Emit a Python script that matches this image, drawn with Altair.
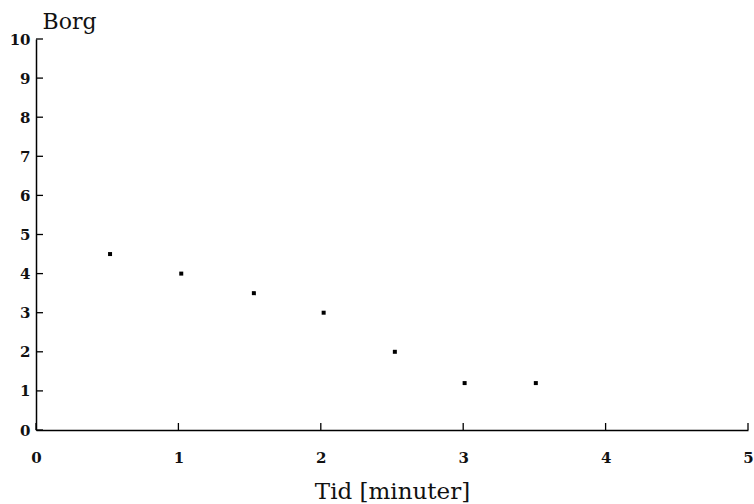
import altair as alt
import pandas as pd

tid = [0.52, 1.02, 1.53, 2.02, 2.52, 3.01, 3.51]
borg = [4.5, 4.0, 3.5, 3.0, 2.0, 1.2, 1.2]
x_ticks = [0, 1, 2, 3, 4, 5]
y_ticks = [0, 1, 2, 3, 4, 5, 6, 7, 8, 9, 10]

FONT = "DejaVu Serif"
W, H = 712, 391

df = pd.DataFrame({"tid": tid, "borg": borg})
xs = alt.Scale(domain=[0, 5], nice=False, zero=False)
ys = alt.Scale(domain=[0, 10], nice=False)

x_axis = alt.Axis(
    values=x_ticks, title="Tid [minuter]", ticks=False, tickSize=0, grid=False,
    domainColor="black", domainWidth=1.5, labelFont=FONT, labelFontSize=15,
    labelFontWeight="bold", labelColor="#111111", labelPadding=20, labelFlush=False,
    titleFont=FONT, titleFontSize=23, titleFontWeight="normal", titleColor="#111111",
    titleBaseline="alphabetic", titleY=68)
y_axis = alt.Axis(
    values=y_ticks, title="Borg", ticks=False, tickSize=0, grid=False,
    domainColor="black", domainWidth=1.5, labelFont=FONT, labelFontSize=15,
    labelFontWeight="bold", labelColor="#111111", labelPadding=6, labelFlush=False,
    titleFont=FONT, titleFontSize=22, titleFontWeight="normal", titleColor="#111111",
    titleAngle=0, titleAlign="left", titleBaseline="alphabetic", titleX=6, titleY=-11)

points = alt.Chart(df).mark_square(size=16, color="black", opacity=1).encode(
    x=alt.X("tid:Q", scale=xs, axis=x_axis),
    y=alt.Y("borg:Q", scale=ys, axis=y_axis),
)

ytick_rules = alt.Chart(pd.DataFrame({"borg": y_ticks})).mark_rule(color="black", strokeWidth=1.3).encode(
    y=alt.Y("borg:Q", scale=ys, axis=y_axis), x=alt.value(0), x2=alt.value(7))

xtick_rules = alt.Chart(pd.DataFrame({"tid": x_ticks})).mark_rule(color="black", strokeWidth=1.3).encode(
    x=alt.X("tid:Q", scale=xs, axis=x_axis), y=alt.value(H), y2=alt.value(H - 7))

chart = alt.layer(points, ytick_rules, xtick_rules).properties(
    width=W, height=H, autosize="none",
    padding={"left": 36, "top": 39, "right": 6, "bottom": 74},
    background="white",
).configure_view(stroke=None)

chart.save("out.html", embed_options={"renderer": "svg", "actions": False})
